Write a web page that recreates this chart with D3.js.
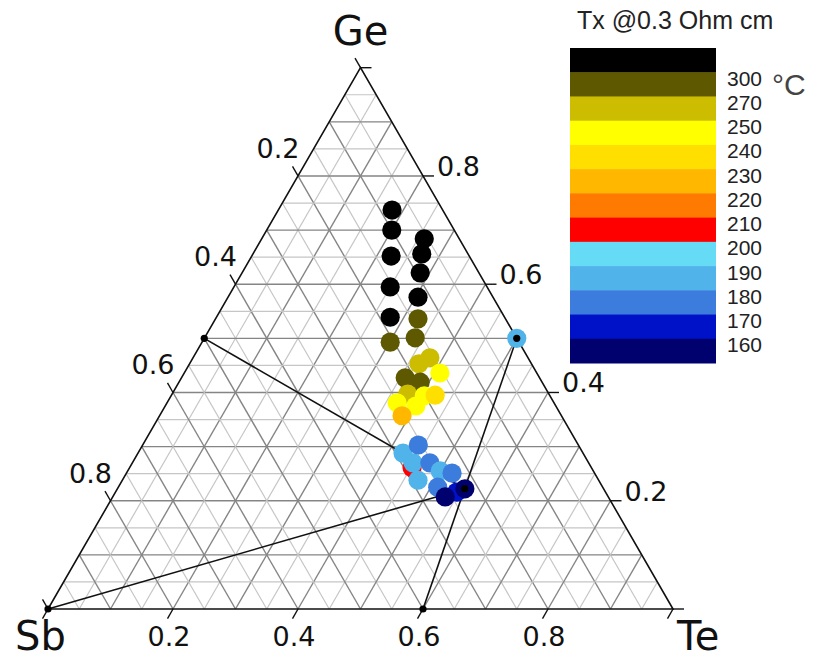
<!DOCTYPE html>
<html>
<head>
<meta charset="utf-8">
<script src="https://cdn.jsdelivr.net/npm/d3@7"></script>
<style>
  html, body { margin: 0; padding: 0; background: #fff; }
  svg { display: block; }
</style>
</head>
<body>
<svg id="chart" width="818" height="661"></svg>
<script>
// ---- Ternary composition data (atomic fractions Ge, Te; Sb = 1 - Ge - Te) ----
const pointGe = [
  0.737, 0.700, 0.652, 0.595, 0.539,
  0.684, 0.656, 0.621, 0.576,
  0.536, 0.493, 0.501,
  0.453, 0.464, 0.427, 0.419, 0.397, 0.381, 0.375, 0.394, 0.436, 0.395, 0.357,
  0.261, 0.288, 0.270, 0.303, 0.270, 0.255, 0.251, 0.238, 0.225, 0.216, 0.207, 0.222,
  0.500
];
const pointTe = [
  0.182, 0.200, 0.223, 0.250, 0.278,
  0.260, 0.270, 0.285, 0.304,
  0.324, 0.301, 0.337,
  0.367, 0.379, 0.358, 0.386, 0.377, 0.368, 0.401, 0.405, 0.409, 0.422, 0.388,
  0.452, 0.424, 0.449, 0.441, 0.476, 0.500, 0.521, 0.473, 0.511, 0.546, 0.532, 0.556,
  0.500
];
// crystallization temperature Tx (°C) at 0.3 Ohm cm
const pointTx = [
  310, 310, 310, 310, 310,
  310, 310, 310, 310,
  285, 285, 285,
  260, 260, 285, 285, 260, 245, 245, 245, 245, 235, 225,
  205, 185, 185, 175, 175, 185, 175, 185, 175, 165, 155, 155,
  185
];

// reference compositions joined by tie lines: [Ge, Te]
const refNames = ["Sb", "GeSb", "GeTe", "Sb2Te3", "Ge2Sb2Te5"];
const refGe = [0, 0.5, 0.5, 0, 0.2222];
const refTe = [0, 0, 0.5, 0.6, 0.5556];
const tieLines = [["GeSb", "Ge2Sb2Te5"], ["Sb", "Ge2Sb2Te5"], ["GeTe", "Sb2Te3"]];

// colour classes: thresholds and colours (low to high)
const txThresholds = [160, 170, 180, 190, 200, 210, 220, 230, 240, 250, 270, 300];
const txColors = ["#00006e", "#0012c8", "#3b7cdc", "#50b4ea", "#66dbf5", "#ff0000",
                  "#ff7a00", "#ffb700", "#ffdf00", "#ffff00", "#ccbd00", "#5e5800", "#000000"];
const tickValues = [0.2, 0.4, 0.6, 0.8];
const tickMarks = [0, 0.2, 0.4, 0.6, 0.8, 1.0];

// ---- drawing ----
const svg = d3.select("#chart");
const x = d3.scaleLinear().domain([0, 1]).range([48, 673]);    // te + ge/2
const y = d3.scaleLinear().domain([0, 1]).range([609, 67.7]);  // ge
const px = (ge, te) => [x(te + ge / 2), y(ge)];
const color = d3.scaleThreshold().domain(txThresholds).range(txColors);
const line = d3.line();

// grid every 0.05, darker every 0.1
const gridG = svg.append("g");
const steps = d3.range(1, 20).map(i => i / 20);
steps.forEach((k, i) => {
  const major = (i + 1) % 2 === 0;
  const segs = [
    [px(k, 0), px(k, 1 - k)],           // constant Ge
    [px(0, k), px(1 - k, k)],           // constant Te
    [px(0, 1 - k), px(1 - k, 0)]        // constant Sb
  ];
  segs.forEach(s => {
    gridG.append("path").attr("d", line(s))
      .attr("fill", "none")
      .attr("stroke", major ? "#858585" : "#c6c6c6")
      .attr("stroke-width", major ? 1.4 : 1.2);
  });
});

// triangle outline
svg.append("path")
  .attr("d", line([px(1, 0), px(0, 0), px(0, 1)]) + "Z")
  .attr("fill", "none").attr("stroke", "#111").attr("stroke-width", 1.6);

// ticks
const tickLen = 11;
const tickG = svg.append("g").attr("stroke", "#111").attr("stroke-width", 1.4);
tickMarks.forEach(v => {
  // Sb axis (left edge), ticks run up-left
  let p = px(1 - v, 0);
  tickG.append("line").attr("x1", p[0]).attr("y1", p[1])
    .attr("x2", p[0] - tickLen * 0.5).attr("y2", p[1] - tickLen * 0.866);
  // Ge axis (right edge), ticks run right
  p = px(v, 1 - v);
  tickG.append("line").attr("x1", p[0]).attr("y1", p[1])
    .attr("x2", p[0] + tickLen).attr("y2", p[1]);
  // Te axis (bottom edge), ticks run down-left
  p = px(0, v);
  tickG.append("line").attr("x1", p[0]).attr("y1", p[1])
    .attr("x2", p[0] - tickLen * 0.5).attr("y2", p[1] + tickLen * 0.866);
});

const labelFont = "DejaVu Sans, sans-serif";
const tl = svg.append("g").attr("font-family", labelFont).attr("font-size", 27).attr("fill", "#111");
tickValues.forEach(v => {
  const f = d3.format(".1f")(v);
  let p = px(1 - v, 0);
  tl.append("text").attr("x", p[0] - 20).attr("y", p[1] - 18)
    .attr("text-anchor", "middle").text(f);
  p = px(v, 1 - v);
  tl.append("text").attr("x", p[0] + 14).attr("y", p[1] + 0)
    .attr("text-anchor", "start").text(f);
  p = px(0, v);
  tl.append("text").attr("x", p[0] - 4).attr("y", p[1] + 37)
    .attr("text-anchor", "middle").text(f);
});

// corner labels
const cl = svg.append("g").attr("font-family", labelFont).attr("font-size", 40).attr("fill", "#111");
cl.append("text").attr("x", px(1, 0)[0]).attr("y", 45).attr("text-anchor", "middle").text("Ge");
cl.append("text").attr("x", 15).attr("y", 650).text("Sb");
cl.append("text").attr("x", 677).attr("y", 650).text("Te");

// tie lines
const refPos = {};
refNames.forEach((n, i) => { refPos[n] = px(refGe[i], refTe[i]); });
svg.append("g").selectAll("path").data(tieLines).join("path")
  .attr("d", d => line([refPos[d[0]], refPos[d[1]]]))
  .attr("fill", "none").attr("stroke", "#111").attr("stroke-width", 1.6);

// measured compositions
const pts = pointGe.map((g, i) => ({ ge: g, te: pointTe[i], tx: pointTx[i] }));
svg.append("g").selectAll("circle").data(pts).join("circle")
  .attr("cx", d => px(d.ge, d.te)[0])
  .attr("cy", d => px(d.ge, d.te)[1])
  .attr("r", 9.6)
  .attr("fill", d => color(d.tx));

// reference composition dots
svg.append("g").selectAll("circle").data(refNames).join("circle")
  .attr("cx", n => refPos[n][0]).attr("cy", n => refPos[n][1])
  .attr("r", 3.6).attr("fill", "#000");

// ---- colour bar ----
const bandIdx = d3.range(txColors.length);
const barY = d3.scaleBand().domain(bandIdx).range([48, 363]);
const bar = svg.append("g");
bar.selectAll("rect").data(bandIdx).join("rect")
  .attr("x", 570).attr("width", 146)
  .attr("y", i => barY(i)).attr("height", barY.bandwidth() + 0.5)
  .attr("fill", i => txColors[txColors.length - 1 - i]);

const descTicks = txThresholds.slice().reverse();
bar.selectAll("text.tk").data(descTicks).join("text")
  .attr("class", "tk")
  .attr("x", 727).attr("y", (d, i) => barY(i + 1) + 6).attr("dy", "0.36em")
  .attr("font-family", "Liberation Sans, Arial, sans-serif").attr("font-size", 21)
  .attr("fill", "#222").text(d => d);

svg.append("text").attr("x", 772).attr("y", 84).attr("dy", "0.36em")
  .attr("font-family", "Liberation Sans, Arial, sans-serif").attr("font-size", 30)
  .attr("fill", "#444").text("°C");

svg.append("text").attr("x", 577).attr("y", 29)
  .attr("font-family", "Liberation Sans, Arial, sans-serif").attr("font-size", 25)
  .attr("fill", "#222").text("Tx @0.3 Ohm cm");
</script>
</body>
</html>
